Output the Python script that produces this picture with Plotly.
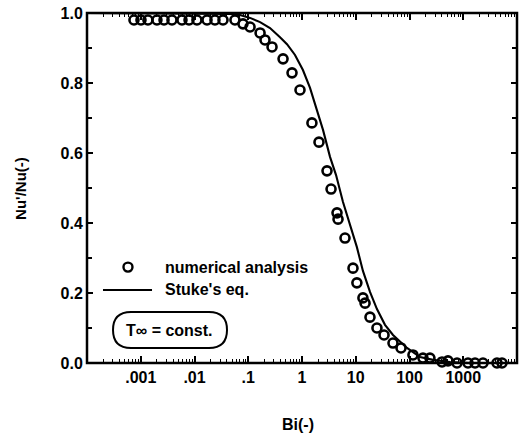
import plotly.graph_objects as go

# numerical analysis (open circles)
bi_num = [0.000748, 0.00101, 0.00136, 0.00200, 0.00271, 0.00381, 0.00585, 0.00791,
          0.0111, 0.0171, 0.0240, 0.0339, 0.0566, 0.0798, 0.108, 0.166, 0.205, 0.277,
          0.444, 0.652, 0.918, 1.53, 2.07, 2.92, 3.47, 4.48, 4.68, 6.31, 8.89, 10.5,
          13.6, 14.9, 18.4, 24.8, 33.6, 49.3, 69.5, 116, 178, 240, 403, 520, 766,
          1225, 1656, 2328, 4246, 5260]
nu_num = [0.980, 0.980, 0.980, 0.980, 0.980, 0.980, 0.980, 0.980,
          0.980, 0.980, 0.980, 0.980, 0.980, 0.969, 0.960, 0.943, 0.923, 0.903,
          0.869, 0.829, 0.780, 0.686, 0.631, 0.549, 0.497, 0.429, 0.411, 0.357, 0.271, 0.229,
          0.186, 0.171, 0.131, 0.100, 0.080, 0.057, 0.043, 0.023, 0.014, 0.014, 0.003, 0.006, 0.0,
          0.0, 0.0, 0.0, 0.0, 0.0]

# Stuke's equation (solid line)
bi_stuke = [0.0001, 0.0457, 0.0703, 0.108, 0.166, 0.254, 0.390, 0.526, 0.741, 1.04,
            1.41, 1.90, 2.46, 3.32, 4.30, 5.79, 7.82, 10.5, 13.6, 18.4, 24.8, 35.0,
            49.3, 89.8, 157, 274, 566, 1337, 10000]
nu_stuke = [1.0, 0.997, 0.994, 0.986, 0.974, 0.957, 0.931, 0.911, 0.880, 0.837,
            0.786, 0.723, 0.666, 0.589, 0.537, 0.460, 0.394, 0.331, 0.263, 0.203, 0.154, 0.109,
            0.080, 0.043, 0.017, 0.009, 0.003, 0.0, 0.0]

x_tickvals = [0.001, 0.01, 0.1, 1, 10, 100, 1000]
x_ticktext = [".001", ".01", ".1", "1", "10", "100", "1000"]
y_tickvals = [0.0, 0.2, 0.4, 0.6, 0.8, 1.0]
y_ticktext = ["0.0", "0.2", "0.4", "0.6", "0.8", "1.0"]

FONT = "Arial, Liberation Sans, Helvetica, sans-serif"
B = lambda s: f"<b>{s}</b>"

fig = go.Figure()
fig.add_trace(go.Scatter(
    x=bi_stuke, y=nu_stuke, mode="lines",
    line=dict(color="black", width=2.1),
    cliponaxis=False, showlegend=False, name="Stuke's eq."))
fig.add_trace(go.Scatter(
    x=bi_num, y=nu_num, mode="markers",
    marker=dict(symbol="circle-open", size=9, color="black", line=dict(width=2.6, color="black")),
    cliponaxis=False, showlegend=False, name="numerical analysis"))

fig.update_layout(
    width=520, height=436,
    margin=dict(l=87, r=3, t=13, b=73),
    plot_bgcolor="white", paper_bgcolor="white",
    font=dict(family=FONT, size=16, color="black"),
)
fig.update_xaxes(
    type="log", range=[-4, 4],
    tickmode="array", tickvals=x_tickvals, ticktext=[B(t) for t in x_ticktext],
    ticks="inside", ticklen=7, tickwidth=2, tickcolor="black",
    showline=True, linecolor="black", mirror="ticks",
    gridcolor="rgba(0,0,0,0)",
    minor=dict(ticks="inside", ticklen=4, tickwidth=1.3, tickcolor="black", dtick="D1"),
    tickfont=dict(family=FONT, size=16, color="black"),
)
fig.update_yaxes(
    range=[0, 1.0],
    tickmode="array", tickvals=y_tickvals, ticktext=[B(t) for t in y_ticktext],
    ticks="inside", ticklen=6, tickwidth=2, tickcolor="black",
    showline=True, linecolor="black", mirror="ticks",
    gridcolor="rgba(0,0,0,0)", zerolinecolor="black",
    minor=dict(ticks="inside", ticklen=5, tickwidth=2, tickcolor="black", dtick=0.1),
    tickfont=dict(family=FONT, size=16, color="black"),
)

# thick plot frame
fig.add_shape(type="rect", xref="paper", yref="paper", x0=0, x1=1, y0=0, y1=1,
              line=dict(color="black", width=2.5), layer="above")

# axis titles
fig.add_annotation(text=B("Bi(-)"), xref="paper", yref="paper", x=0.4907, y=-0.177,
                   showarrow=False, font=dict(family=FONT, size=16),
                   xanchor="center", yanchor="middle")
fig.add_annotation(text=B("Nu'/Nu(-)"), xref="paper", yref="paper", x=-0.156, y=0.5,
                   textangle=-90, showarrow=False, font=dict(family=FONT, size=15),
                   xanchor="center", yanchor="middle")

# manual legend
fig.add_shape(type="circle", xref="paper", yref="paper", xsizemode="pixel", ysizemode="pixel",
              xanchor=0.0953, yanchor=0.274, x0=-4.5, x1=4.5, y0=-4.5, y1=4.5,
              line=dict(color="black", width=2.4))
fig.add_annotation(text=B("numerical analysis"), xref="paper", yref="paper", x=0.1767, y=0.274,
                   showarrow=False, xanchor="left", yanchor="middle",
                   font=dict(family=FONT, size=16))
fig.add_shape(type="line", xref="paper", yref="paper", x0=0.0372, x1=0.1512, y0=0.2086, y1=0.2086,
              line=dict(color="black", width=2.2))
fig.add_annotation(text=B("Stuke's eq."), xref="paper", yref="paper", x=0.1767, y=0.2086,
                   showarrow=False, xanchor="left", yanchor="middle",
                   font=dict(family=FONT, size=16))

# rounded box "T∞ = const."
x0, x1, y0, y1 = 0.0605, 0.3256, 0.0429, 0.1457
rx = 0.0419
ym = (y0 + y1) / 2
path = (f"M{x0+rx},{y1} L{x1-rx},{y1} Q{x1},{y1} {x1},{ym} Q{x1},{y0} {x1-rx},{y0} "
        f"L{x0+rx},{y0} Q{x0},{y0} {x0},{ym} Q{x0},{y1} {x0+rx},{y1} Z")
fig.add_shape(type="path", xref="paper", yref="paper", path=path,
              line=dict(color="black", width=2))
fig.add_annotation(text=B("T∞ = const."), xref="paper", yref="paper", x=0.193, y=0.094,
                   showarrow=False, xanchor="center", yanchor="middle",
                   font=dict(family=FONT, size=16))

fig.write_html("out.html")
